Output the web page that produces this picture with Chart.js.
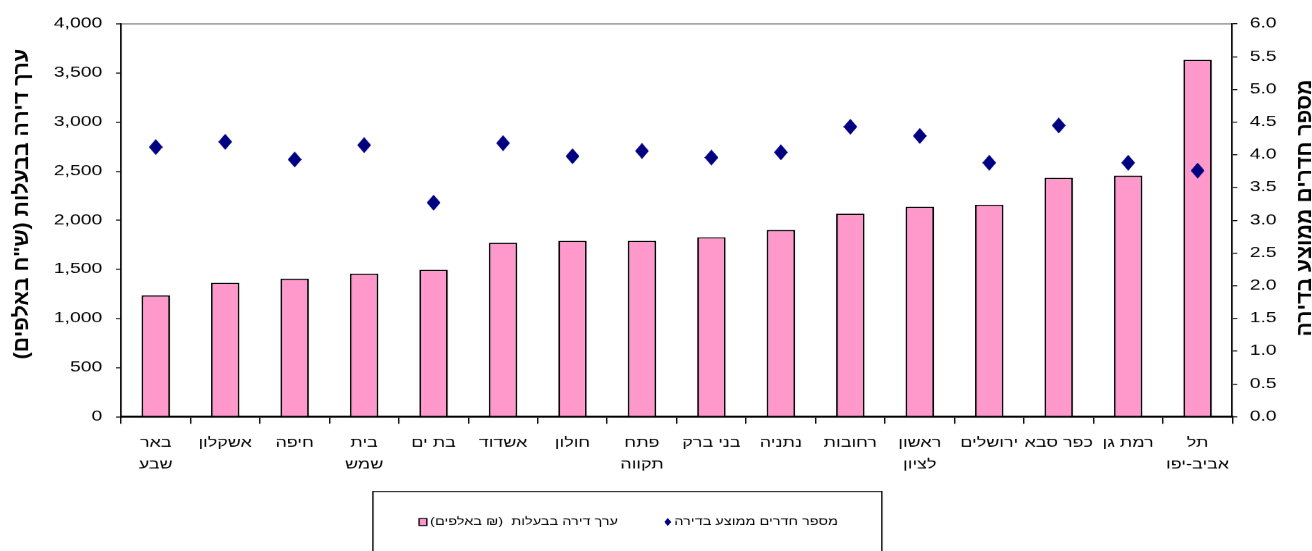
<!DOCTYPE html>
<html><head><meta charset="utf-8">
<script src="https://cdn.jsdelivr.net/npm/chart.js@4"></script>
<style>
html,body{margin:0;padding:0;background:#fff;overflow:hidden;width:1312px;height:551px}
#wrap{width:950px;height:551px;transform:scaleX(1.381053);transform-origin:0 0}
canvas{display:block}
</style></head><body>
<div id="wrap"><canvas id="c" width="950" height="551"></canvas></div>
<script>
// ---- data ----
const categories = [
  ['באר','שבע'], 'אשקלון', 'חיפה', ['בית','שמש'], 'בת ים', 'אשדוד', 'חולון', ['פתח','תקווה'],
  'בני ברק', 'נתניה', 'רחובות', ['ראשון','לציון'], 'ירושלים', 'כפר סבא', 'רמת גן', ['תל','אביב-יפו']
];
const apartmentValue = [1236, 1365, 1406, 1457, 1497, 1772, 1793, 1793, 1827, 1902, 2068, 2139, 2159, 2434, 2455, 3636];
const roomsAvg = [4.12, 4.20, 3.93, 4.15, 3.27, 4.18, 3.98, 4.06, 3.96, 4.04, 4.43, 4.29, 3.88, 4.45, 3.88, 3.76];
const valueTicks = [0, 500, 1000, 1500, 2000, 2500, 3000, 3500, 4000];
const roomTicks = [0, 0.5, 1, 1.5, 2, 2.5, 3, 3.5, 4, 4.5, 5, 5.5, 6];
const leftTitle = 'ערך דירה בבעלות (ש"ח באלפים)';
const rightTitle = 'מספר חדרים ממוצע בדירה';
const barLabel = 'ערך דירה בבעלות  (₪ באלפים)';
const pointLabel = 'מספר חדרים ממוצע בדירה';

const FONT = "'Liberation Sans', Arial, sans-serif";
Chart.defaults.font.family = FONT;
Chart.defaults.font.size = 14;
Chart.defaults.color = '#000';

function diamondCanvas(w, h, scale) {
  const c = document.createElement('canvas');
  c.width = w * scale; c.height = h * scale;
  const x = c.getContext('2d');
  x.fillStyle = '#000080';
  x.beginPath();
  x.moveTo(c.width / 2, 0);
  x.lineTo(c.width, c.height / 2);
  x.lineTo(c.width / 2, c.height);
  x.lineTo(0, c.height / 2);
  x.closePath();
  x.fill();
  return c;
}

const deco = {
  id: 'deco',
  afterDraw(chart) {
    const ctx = chart.ctx;
    ctx.save();
    ctx.fillStyle = '#000';
    ctx.direction = 'rtl';
    ctx.textAlign = 'center';
    ctx.textBaseline = 'middle';
    ctx.font = "bold 15px " + FONT;
    ctx.save(); ctx.translate(16, 204); ctx.rotate(-Math.PI / 2); ctx.scale(1.42, 1); ctx.fillText(leftTitle, 0, 0); ctx.restore();
    ctx.save(); ctx.translate(945, 208); ctx.rotate(-Math.PI / 2); ctx.scale(1.42, 1); ctx.fillText(rightTitle, 0, 0); ctx.restore();
    // legend
    ctx.strokeStyle = '#000';
    ctx.lineWidth = 1;
    ctx.strokeRect(270, 491.5, 368.5, 90);
    ctx.font = "10.5px " + FONT;
    ctx.textAlign = 'right';
    const r1 = 447.5;
    const w1 = ctx.measureText(barLabel).width;
    ctx.fillStyle = '#FF99CC';
    ctx.fillRect(r1 - w1 - 8, 518.5, 5.6, 7);
    ctx.strokeRect(r1 - w1 - 8, 518.5, 5.6, 7);
    ctx.fillStyle = '#000';
    ctx.fillText(barLabel, r1, 522);
    ctx.drawImage(diamondCanvas(5, 8, 4), 481, 518, 5, 8);
    ctx.fillText(pointLabel, 606.8, 522);
    ctx.restore();
  }
};

function build(img) {
  new Chart(document.getElementById('c'), {
    data: {
      labels: categories,
      datasets: [
        {
          type: 'line', label: pointLabel, data: roomsAvg, yAxisID: 'y1', showLine: false,
          pointStyle: img, order: 0, pointBackgroundColor: '#000080'
        },
        {
          type: 'bar', label: barLabel, data: apartmentValue, yAxisID: 'y',
          backgroundColor: '#FF99CC', borderColor: '#000', borderWidth: 1.3,
          barPercentage: 0.41, categoryPercentage: 1, order: 1
        }
      ]
    },
    options: {
      responsive: false,
      devicePixelRatio: 1.381053,
      animation: false,
      layout: { padding: { top: 24, left: 0, right: 0, bottom: 0 } },
      plugins: { legend: { display: false }, tooltip: { enabled: false } },
      scales: {
        x: {
          offset: true,
          grid: { offset: true, drawOnChartArea: false, tickLength: 7, tickColor: '#000', tickWidth: 1 },
          border: { color: '#000', width: 2 },
          ticks: { autoSkip: false, maxRotation: 0, minRotation: 0, padding: 9, font: { size: 13, lineHeight: 1.65 } },
          afterFit(s) { s.height = 551 - 416.7; }
        },
        y: {
          position: 'left', min: 0, max: 4000,
          afterBuildTicks(s) { s.ticks = valueTicks.map(v => ({ value: v })); },
          grid: {
            drawOnChartArea: true,
            color: c => (c.tick && c.tick.value === 4000) ? '#a0a0a0' : 'rgba(0,0,0,0)',
            lineWidth: 1.4, tickColor: '#000', tickWidth: 1, tickLength: 3.6
          },
          border: { color: '#000', width: 1.2 },
          ticks: { padding: 10, callback: v => v.toLocaleString('en-US') },
          afterFit(s) { s.width = 87.6; }
        },
        y1: {
          position: 'right', min: 0, max: 6,
          afterBuildTicks(s) { s.ticks = roomTicks.map(v => ({ value: v })); },
          grid: { drawOnChartArea: false, tickColor: '#000', tickWidth: 1, tickLength: 3.6 },
          border: { color: '#000', width: 1.2 },
          ticks: { padding: 9, callback: v => Number(v).toFixed(1) },
          afterFit(s) { s.width = 950 - 892.3; }
        }
      }
    },
    plugins: [deco]
  });
}

const dimg = new Image();
dimg.onload = () => build(dimg);
dimg.src = diamondCanvas(10, 16, 4).toDataURL();
dimg.width = 10; dimg.height = 16;
</script>
</body></html>
